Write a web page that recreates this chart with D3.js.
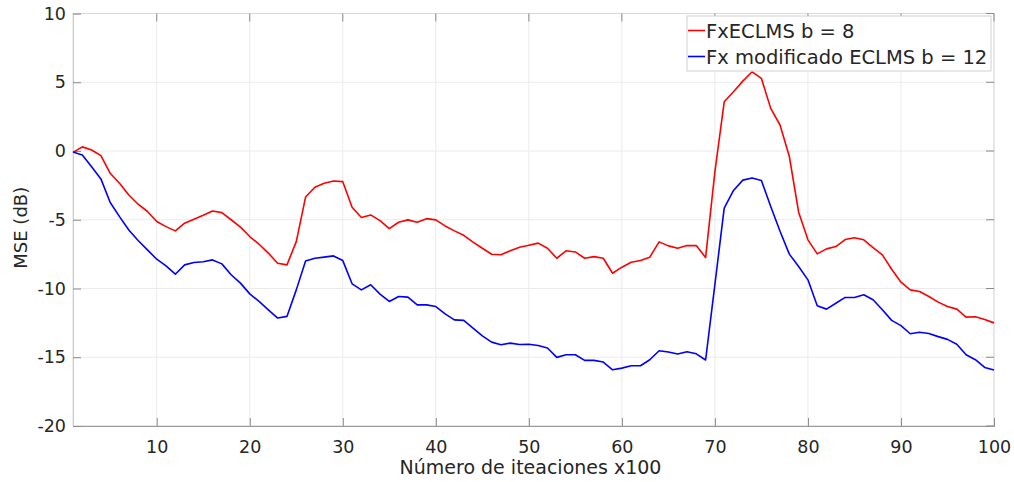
<!DOCTYPE html>
<html>
<head>
<meta charset="utf-8">
<script src="https://cdn.jsdelivr.net/npm/d3@7"></script>
<style>
	body { margin: 0; background: #fff; }
	text { font-family: "DejaVu Sans", Arial, Helvetica, sans-serif; fill: #262626; }
</style>
</head>
<body>
<div id="chart"></div>
<script>
// iteraciones (x100)
const iteraciones = d3.range(1, 101);

// FxECLMS b = 8 (red)
const fxEclms = [
	-0.1, 0.3, 0.07, -0.34, -1.62, -2.35, -3.2, -3.87, -4.4, -5.13,
	-5.5, -5.81, -5.25, -4.96, -4.67, -4.36, -4.48, -5.0, -5.54, -6.22,
	-6.78, -7.43, -8.16, -8.28, -6.59, -3.35, -2.64, -2.35, -2.18, -2.23,
	-4.09, -4.84, -4.65, -5.06, -5.64, -5.18, -5.01, -5.18, -4.92, -5.01,
	-5.45, -5.81, -6.13, -6.63, -7.07, -7.51, -7.55, -7.26, -7.0, -6.85,
	-6.7, -7.07, -7.8, -7.26, -7.34, -7.8, -7.68, -7.8, -8.89, -8.45,
	-8.09, -7.97, -7.72, -6.61, -6.9, -7.07, -6.88, -6.88, -7.75, -1.5,
	3.58, 4.31, 5.08, 5.76, 5.28, 3.1, 1.89, -0.4, -4.45, -6.46,
	-7.48, -7.12, -6.95, -6.44, -6.31, -6.46, -7.02, -7.55, -8.6, -9.54,
	-10.1, -10.22, -10.58, -10.99, -11.31, -11.5, -12.08, -12.05, -12.25, -12.5
];

// Fx modificado ECLMS b = 12 (blue)
const fxModEclms = [
	-0.07, -0.29, -1.14, -2.03, -3.75, -4.77, -5.74, -6.51, -7.19, -7.87,
	-8.35, -8.96, -8.28, -8.11, -8.06, -7.92, -8.21, -9.0, -9.61, -10.39,
	-10.94, -11.55, -12.15, -12.03, -10.1, -8.0, -7.8, -7.72, -7.63, -7.97,
	-9.66, -10.1, -9.73, -10.41, -10.94, -10.58, -10.63, -11.19, -11.19, -11.31,
	-11.84, -12.28, -12.32, -12.88, -13.44, -13.9, -14.09, -13.97, -14.07, -14.05,
	-14.15, -14.33, -15.01, -14.82, -14.82, -15.23, -15.23, -15.35, -15.91, -15.79,
	-15.62, -15.62, -15.18, -14.53, -14.62, -14.77, -14.6, -14.75, -15.2, -9.7,
	-4.16, -2.87, -2.12, -1.97, -2.15, -4.04, -5.84, -7.5, -8.4, -9.37,
	-11.26, -11.5, -11.07, -10.65, -10.65, -10.46, -10.82, -11.55, -12.32, -12.7,
	-13.29, -13.18, -13.27, -13.5, -13.7, -14.05, -14.82, -15.18, -15.74, -15.93
];

const xTicks = [10, 20, 30, 40, 50, 60, 70, 80, 90, 100];
const yTicks = [-20, -15, -10, -5, 0, 5, 10];
const seriesNames = ["FxECLMS b = 8", "Fx modificado ECLMS b = 12"];
const seriesColors = ["#ff0000", "#0000ff"];

const width = 1014, height = 482;
const plotLeft = 73, plotRight = 994, plotTop = 13.5, plotBottom = 426;

const svg = d3.select("#chart").append("svg")
	.attr("width", width)
	.attr("height", height);

const x = d3.scaleLinear().domain([1, 100]).range([plotLeft, plotRight]);
const y = d3.scaleLinear().domain([-20, 10]).range([plotBottom, plotTop]);

//grid lines
svg.append("g")
	.selectAll("line")
	.data(xTicks)
	.enter().append("line")
		.attr("x1", d => x(d)).attr("x2", d => x(d))
		.attr("y1", plotTop).attr("y2", plotBottom)
		.attr("stroke", "#ebebeb");
svg.append("g")
	.selectAll("line")
	.data(yTicks)
	.enter().append("line")
		.attr("x1", plotLeft).attr("x2", plotRight)
		.attr("y1", d => y(d)).attr("y2", d => y(d))
		.attr("stroke", "#ebebeb");

//box (light top/right/left, darker bottom)
svg.append("rect")
	.attr("x", plotLeft).attr("y", plotTop)
	.attr("width", plotRight - plotLeft).attr("height", plotBottom - plotTop)
	.attr("fill", "none")
	.attr("stroke", "#d9d9d9");

//axes with inward ticks, plain hyphen for negatives like matlab
const xAxis = d3.axisBottom(x).tickValues(xTicks).tickSize(-8).tickPadding(15)
	.tickFormat(d => String(d));
const yAxis = d3.axisLeft(y).tickValues(yTicks).tickSize(-8).tickPadding(7)
	.tickFormat(d => String(d));

const gx = svg.append("g").attr("transform", `translate(0,${plotBottom})`).call(xAxis);
const gy = svg.append("g").attr("transform", `translate(${plotLeft},0)`).call(yAxis);

gx.select(".domain").attr("stroke", "#999");
gy.select(".domain").attr("stroke", "#cfcfcf");
[gx, gy].forEach(g => {
	g.selectAll(".tick line").attr("stroke", "#8a8a8a");
	g.selectAll(".tick text")
		.attr("font-size", 17.5)
		.attr("font-family", "DejaVu Sans, Arial, sans-serif")
		.attr("fill", "#262626");
});

//top and right ticks
svg.append("g").selectAll("line").data(xTicks).enter().append("line")
	.attr("x1", d => x(d)).attr("x2", d => x(d))
	.attr("y1", plotTop).attr("y2", plotTop + 8)
	.attr("stroke", "#8a8a8a");
svg.append("g").selectAll("line").data(yTicks).enter().append("line")
	.attr("x1", plotRight - 8).attr("x2", plotRight)
	.attr("y1", d => y(d)).attr("y2", d => y(d))
	.attr("stroke", "#8a8a8a");

//data lines
const line = d3.line()
	.x((d, i) => x(iteraciones[i]))
	.y(d => y(d));

[fxEclms, fxModEclms].forEach((serie, i) => {
	svg.append("path")
		.datum(serie)
		.attr("fill", "none")
		.attr("stroke", seriesColors[i])
		.attr("stroke-width", 1.6)
		.attr("stroke-linejoin", "round")
		.attr("d", line);
});

//axis labels
svg.append("text")
	.attr("x", (plotLeft + plotRight) / 2 - 3)
	.attr("y", 474)
	.attr("text-anchor", "middle")
	.attr("font-size", 19)
	.text("Número de iteaciones x100");

svg.append("text")
	.attr("transform", `translate(27,${(plotTop + plotBottom) / 2 + 8}) rotate(-90)`)
	.attr("text-anchor", "middle")
	.attr("font-size", 18)
	.text("MSE (dB)");

//legend
const legend = svg.append("g");
legend.append("rect")
	.attr("x", 687).attr("y", 16)
	.attr("width", 304).attr("height", 55)
	.attr("fill", "#fff")
	.attr("stroke", "#d0d0d0");

seriesNames.forEach((name, i) => {
	const ly = 30.5 + i * 26;
	legend.append("line")
		.attr("x1", 688).attr("x2", 705)
		.attr("y1", ly).attr("y2", ly)
		.attr("stroke", seriesColors[i])
		.attr("stroke-width", 1.6);
	legend.append("text")
		.attr("x", 706)
		.attr("y", ly + 7.5)
		.attr("font-size", 19.5)
		.attr("fill", "#000")
		.text(name);
});
</script>
</body>
</html>
